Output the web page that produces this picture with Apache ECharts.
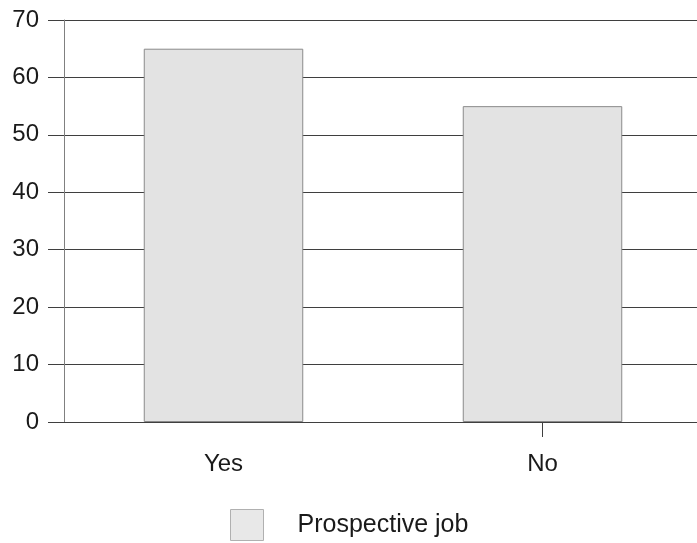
<!DOCTYPE html>
<html>
<head>
<meta charset="utf-8">
<style>
  html, body { margin: 0; padding: 0; background: #fff; overflow: hidden; }
  /* the plot runs a few pixels past the right edge of the window */
  #chart { width: 710px; height: 543px; }
</style>
<script src="https://cdn.jsdelivr.net/npm/echarts@6/dist/echarts.min.js"></script>
</head>
<body>
<div id="chart"></div>
<script>
// Answers and their share (%)
const categories = ['Yes', 'No'];
const prospectiveJob = [65, 55];
const seriesName = 'Prospective job';
const yTicks = { min: 0, max: 70, interval: 10 };

const FONT = '"Liberation Sans", Arial, sans-serif';
const TEXT = '#1a1a1a';
const LINE = '#3f3f3f';

const chart = echarts.init(document.getElementById('chart'), null, { renderer: 'canvas' });
chart.setOption({
  animation: false,
  backgroundColor: '#ffffff',
  grid: { left: 64, top: 20, width: 638, height: 402 },
  xAxis: {
    type: 'category',
    data: categories,
    axisLine: { lineStyle: { color: LINE, width: 1 } },
    axisTick: {
      show: true,
      alignWithLabel: true,
      length: 15,
      interval: (i) => i === 1,
      lineStyle: { color: LINE }
    },
    axisLabel: { color: TEXT, fontFamily: FONT, fontSize: 24, margin: 30 },
    splitLine: { show: false }
  },
  yAxis: {
    type: 'value',
    min: yTicks.min,
    max: yTicks.max,
    interval: yTicks.interval,
    axisLine: { show: true, lineStyle: { color: '#808080', width: 1 } },
    axisTick: { show: true, length: 16, inside: false, lineStyle: { color: LINE } },
    axisLabel: { color: TEXT, fontFamily: FONT, fontSize: 24, margin: 25 },
    splitLine: { show: true, lineStyle: { color: LINE, width: 1 } }
  },
  legend: {
    data: [seriesName],
    left: 225,
    top: 504,
    itemWidth: 33,
    itemHeight: 31,
    icon: 'rect',
    itemStyle: { color: '#e8e8e8', borderColor: '#b0b0b0', borderWidth: 1 },
    textStyle: { color: TEXT, fontFamily: FONT, fontSize: 25, padding: [16, 0, 0, 29] }
  },
  series: [{
    name: seriesName,
    type: 'bar',
    data: prospectiveJob,
    barWidth: '50%',
    itemStyle: { color: '#e3e3e3', borderColor: '#8a8a8a', borderWidth: 1 }
  }]
});
</script>
</body>
</html>
